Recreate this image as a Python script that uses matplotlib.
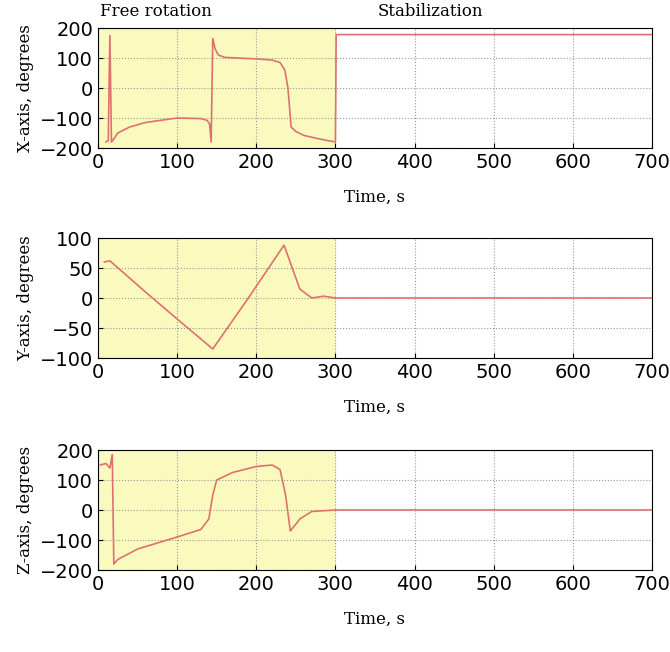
import matplotlib
matplotlib.use("Agg")
import matplotlib.pyplot as plt

tx = [10, 13, 15, 17, 20, 25, 40, 60, 100, 130, 138, 141, 143, 145, 148, 152, 160, 200, 220, 230, 236, 240, 244, 250, 260, 280, 300, 301, 310, 700]
vx = [-180, -175, 175, -180, -170, -150, -130, -115, -100, -102, -108, -120, -180, 165, 130, 110, 102, 97, 93, 85, 60, 0, -130, -145, -158, -170, -180, 178, 178, 178]
ty = [8, 15, 60, 100, 145, 190, 235, 240, 255, 270, 285, 300, 320, 700]
vy = [60, 62, 10, -35, -85, 0, 88, 70, 15, 0, 3, 0, 0, 0]
tz = [3, 10, 15, 18, 20, 25, 50, 100, 130, 140, 145, 150, 170, 200, 220, 230, 237, 243, 255, 270, 300, 700]
vz = [150, 155, 140, 185, -180, -165, -130, -90, -65, -30, 50, 100, 125, 145, 150, 135, 50, -70, -30, -5, 0, 0]

xticks = [0, 100, 200, 300, 400, 500, 600, 700]
W, H = 670, 652
fig = plt.figure(figsize=(W/100, H/100), dpi=100)
serif = "DejaVu Serif"
specs = [
    (tx, vx, "X-axis, degrees", (-200, 200), [-200, -100, 0, 100, 200], 28),
    (ty, vy, "Y-axis, degrees", (-100, 100), [-100, -50, 0, 50, 100], 238),
    (tz, vz, "Z-axis, degrees", (-200, 200), [-200, -100, 0, 100, 200], 450),
]
col = "#e07070"
for t, v, lab, yl, yt, top in specs:
    ax = fig.add_axes([98/W, 1-(top+120)/H, 554/W, 120/H])
    ax.axvspan(0, 300, color="#fafabe", zorder=0)
    ax.plot(t, v, color=col, lw=1.2)
    ax.set_xlim(0, 700); ax.set_ylim(*yl)
    ax.set_xticks(xticks); ax.set_yticks(yt)
    ax.grid(True, ls=":", color="#999999", lw=0.8)
    ax.tick_params(labelsize=14, direction="in")
    ax.set_ylabel(lab, fontfamily=serif, fontsize=12)
    ax.set_xlabel("Time, s", fontfamily=serif, fontsize=12, labelpad=12)
fig.text(100/W, 1-12/H, "Free rotation", fontfamily=serif, fontsize=12, va="center")
fig.text(378/W, 1-12/H, "Stabilization", fontfamily=serif, fontsize=12, va="center")
fig.savefig("out.png", dpi=100)
